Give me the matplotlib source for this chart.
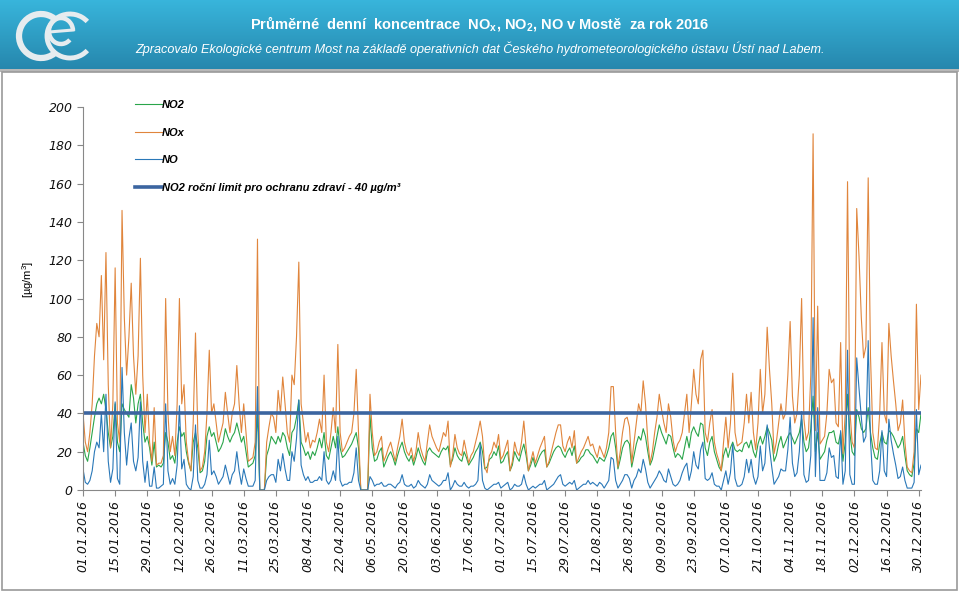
import numpy as np
import pandas as pd
import matplotlib
matplotlib.use('Agg')
import matplotlib.pyplot as plt
import matplotlib.dates as mdates
from matplotlib.patches import Rectangle, Arc

# daily means 2016 (ug/m3), two weeks per row
nox = [40, 25, 20, 30, 45, 70, 87, 80, 112, 68, 124, 55, 22, 45,
       116, 35, 25, 146, 90, 60, 80, 108, 70, 50, 70, 121, 60, 30,
       50, 25, 15, 43, 13, 14, 14, 18, 100, 40, 20, 28, 18, 45,
       100, 45, 55, 25, 15, 10, 35, 82, 30, 10, 12, 20, 40, 73,
       40, 45, 35, 25, 30, 35, 51, 40, 30, 40, 45, 65, 45, 30,
       45, 30, 15, 16, 17, 25, 131, 0, 0, 0, 25, 33, 40, 38,
       30, 52, 40, 59, 45, 30, 25, 60, 55, 80, 119, 45, 35, 25,
       30, 22, 26, 25, 30, 37, 30, 60, 25, 20, 30, 43, 30, 76,
       30, 20, 22, 25, 28, 30, 40, 63, 30, 0, 0, 0, 0, 50,
       30, 18, 20, 25, 28, 15, 18, 22, 25, 20, 15, 22, 28, 37,
       25, 20, 18, 22, 15, 20, 30, 22, 18, 15, 25, 34, 28, 25,
       22, 20, 25, 30, 28, 36, 12, 18, 29, 22, 19, 18, 26, 20,
       14, 18, 20, 25, 30, 36, 28, 12, 9, 18, 20, 25, 22, 29,
       16, 18, 22, 26, 10, 15, 25, 20, 18, 25, 36, 22, 10, 15,
       20, 14, 18, 22, 25, 28, 12, 15, 20, 25, 30, 34, 34, 23,
       20, 25, 28, 22, 31, 14, 17, 20, 22, 25, 28, 23, 24, 20,
       17, 23, 20, 17, 22, 30, 54, 54, 30, 12, 20, 30, 37, 38,
       33, 14, 25, 35, 45, 40, 57, 45, 26, 14, 20, 30, 38, 50,
       42, 35, 30, 45, 38, 26, 20, 24, 26, 30, 40, 50, 30, 45,
       63, 50, 45, 68, 73, 30, 25, 35, 42, 25, 19, 15, 10, 25,
       38, 22, 35, 61, 30, 23, 24, 25, 35, 50, 35, 51, 30, 21,
       35, 63, 40, 50, 85, 63, 45, 19, 25, 35, 45, 37, 40, 60,
       88, 49, 35, 40, 60, 100, 37, 26, 30, 60, 186, 31, 96, 24,
       26, 28, 40, 63, 56, 58, 35, 33, 77, 19, 40, 161, 42, 25,
       22, 147, 122, 90, 69, 75, 163, 70, 30, 22, 21, 40, 77, 40,
       35, 87, 70, 57, 45, 31, 35, 47, 25, 12, 10, 9, 20, 97,
       42, 60]

no2 = [25, 18, 15, 22, 30, 38, 45, 48, 45, 50, 42, 30, 22, 28,
       45, 25, 20, 45, 42, 40, 38, 55, 48, 35, 45, 50, 35, 25,
       28, 22, 13, 25, 12, 13, 12, 14, 30, 25, 16, 18, 14, 25,
       33, 28, 30, 20, 14, 10, 25, 30, 22, 9, 10, 15, 28, 33,
       28, 30, 25, 20, 22, 25, 32, 28, 25, 28, 30, 35, 30, 25,
       28, 20, 12, 13, 14, 18, 40, 0, 0, 0, 18, 22, 28, 26,
       24, 28, 25, 30, 28, 22, 18, 30, 32, 38, 47, 25, 22, 18,
       20, 16, 20, 18, 22, 27, 22, 30, 18, 16, 22, 28, 22, 33,
       22, 17, 18, 20, 22, 24, 27, 30, 22, 0, 0, 0, 0, 39,
       22, 15, 16, 20, 22, 12, 15, 18, 20, 17, 13, 18, 22, 25,
       20, 17, 15, 18, 13, 17, 22, 18, 15, 13, 20, 22, 20, 19,
       18, 17, 20, 22, 21, 23, 13, 16, 22, 18, 16, 15, 20, 17,
       13, 15, 17, 20, 22, 25, 20, 11, 12, 16, 17, 20, 18, 23,
       14, 15, 18, 20, 10, 13, 20, 17, 15, 20, 24, 18, 10, 13,
       17, 12, 15, 18, 20, 21, 12, 14, 17, 20, 22, 23, 22, 19,
       17, 20, 22, 18, 23, 14, 15, 17, 18, 21, 21, 19, 18, 16,
       14, 17, 16, 15, 18, 22, 28, 30, 22, 11, 16, 22, 25, 26,
       24, 12, 18, 24, 28, 26, 32, 28, 20, 13, 16, 22, 28, 34,
       30, 27, 24, 29, 28, 22, 17, 19, 18, 16, 22, 28, 22, 30,
       33, 30, 28, 35, 34, 22, 18, 25, 28, 20, 16, 12, 10, 18,
       22, 17, 22, 25, 21, 20, 21, 20, 24, 25, 22, 26, 20, 17,
       24, 28, 24, 28, 33, 30, 26, 15, 18, 24, 28, 22, 25, 28,
       30, 27, 24, 27, 30, 37, 25, 20, 22, 32, 49, 20, 30, 16,
       18, 20, 26, 30, 30, 31, 25, 24, 30, 15, 25, 50, 30, 20,
       18, 42, 38, 32, 30, 32, 43, 30, 22, 17, 16, 24, 30, 25,
       24, 31, 30, 28, 25, 22, 24, 28, 18, 10, 8, 7, 14, 32,
       30, 40]

no = [11, 4, 3, 5, 10, 20, 25, 22, 40, 20, 50, 15, 4, 11,
      46, 6, 3, 64, 30, 13, 27, 35, 15, 10, 17, 46, 15, 4,
      15, 2, 2, 12, 1, 1, 2, 3, 45, 10, 3, 6, 3, 13,
      44, 11, 16, 3, 1, 0, 7, 34, 5, 1, 1, 3, 8, 26,
      8, 10, 7, 3, 5, 7, 13, 8, 3, 8, 10, 20, 10, 3,
      11, 6, 2, 2, 2, 5, 54, 0, 0, 0, 5, 7, 8, 8,
      4, 16, 10, 19, 11, 5, 5, 20, 15, 27, 47, 13, 8, 5,
      7, 4, 4, 5, 5, 7, 5, 20, 5, 3, 5, 10, 5, 28,
      5, 2, 3, 3, 4, 4, 9, 22, 5, 0, 0, 0, 0, 7,
      5, 2, 3, 3, 4, 2, 2, 3, 3, 2, 1, 3, 4, 8,
      3, 2, 2, 3, 1, 2, 5, 3, 2, 1, 3, 8, 5, 4,
      3, 2, 3, 5, 5, 9, 0, 2, 5, 3, 2, 2, 4, 2,
      1, 2, 2, 3, 5, 24, 5, 1, 0, 1, 2, 3, 3, 4,
      1, 2, 3, 4, 0, 1, 3, 2, 2, 3, 8, 3, 0, 1,
      2, 1, 2, 3, 3, 5, 0, 1, 2, 3, 5, 7, 8, 3,
      2, 3, 4, 3, 5, 0, 1, 2, 3, 3, 5, 3, 4, 3,
      2, 4, 3, 1, 3, 5, 17, 16, 5, 1, 3, 5, 8, 8,
      6, 1, 5, 7, 11, 9, 16, 11, 4, 1, 3, 5, 7, 10,
      8, 5, 4, 11, 7, 3, 2, 3, 5, 9, 12, 14, 5, 10,
      20, 13, 11, 21, 25, 6, 5, 6, 9, 3, 2, 2, 0, 5,
      10, 3, 9, 24, 6, 2, 2, 3, 7, 16, 9, 16, 7, 3,
      7, 23, 10, 14, 34, 22, 12, 3, 5, 7, 11, 10, 10, 21,
      38, 14, 7, 9, 20, 41, 8, 4, 5, 18, 90, 7, 43, 5,
      5, 5, 9, 22, 17, 18, 7, 6, 31, 3, 10, 73, 8, 3,
      3, 69, 53, 38, 25, 28, 78, 26, 5, 3, 3, 10, 31, 10,
      7, 37, 26, 19, 13, 6, 7, 12, 5, 1, 1, 1, 4, 42,
      8, 13]

limit_no2 = 40  # rocni limit NO2
y_ticks = list(range(0, 201, 20))

dates = pd.date_range('2016-01-01', periods=len(nox), freq='D')
limit = np.full(len(dates), limit_no2)

W, H = 959, 592
def px(x, y):
    return x / W, 1 - y / H

fig = plt.figure(figsize=(W / 100, H / 100), dpi=100)
fig.patch.set_facecolor('white')

# header band with gradient
hb = fig.add_axes([0, 1 - 69 / H, 1, 69 / H])
grad = np.linspace(0, 1, 100).reshape(-1, 1)
top_c = np.array([0.22, 0.71, 0.86])
bot_c = np.array([0.15, 0.53, 0.68])
img = top_c + (bot_c - top_c) * grad[:, :, None]
hb.imshow(img, aspect='auto', extent=[0, 1, 0, 1])
hb.set_axis_off()
# shadow under the band
fig.patches.append(Rectangle(px(0, 72), 1, 3 / H, transform=fig.transFigure,
                             facecolor='#b8b8b8', edgecolor='none'))
# frame around chart area
fig.patches.append(Rectangle(px(2, 590), (955) / W, (590 - 72) / H,
                             transform=fig.transFigure, facecolor='none',
                             edgecolor='#9a9a9a', linewidth=1.2))

# logo (two C's and an e)
lg = fig.add_axes([0, 1 - 69 / H, 110 / W, 69 / H])
lg.set_xlim(0, 110)
lg.set_ylim(69, 0)
lg.set_axis_off()
logo_c = '#e6ecef'
lg.add_patch(Arc((41, 36), 44, 44, theta1=45, theta2=315, color=logo_c, lw=4.5))
lg.add_patch(Arc((70, 36), 46, 44, theta1=40, theta2=320, color=logo_c, lw=3.5))
lg.add_patch(Arc((61, 31), 24, 26, theta1=45, theta2=360, color=logo_c, lw=3.2))
lg.plot([49, 73], [32, 30], color=logo_c, lw=2.2)

fig.text(*px(480, 24), 'Průměrné  denní  koncentrace  NO$_\\mathregular{x}$, NO$_\\mathregular{2}$, NO v Mostě  za rok 2016',
         ha='center', va='center', color='white', fontsize=10.5,
         fontweight='bold', family='Liberation Sans')
fig.text(*px(480, 49), 'Zpracovalo Ekologické centrum Most na základě operativních dat Českého hydrometeorologického ústavu Ústí nad Labem.',
         ha='center', va='center', color='white', fontsize=9.1,
         style='italic', family='Liberation Sans')

ax = fig.add_axes([83 / W, (592 - 490) / H, (921 - 83) / W, (490 - 107) / H])
ax.plot(dates, no2, color='#2aa54a', lw=0.8, label='NO2')
ax.plot(dates, nox, color='#e0853c', lw=0.8, label='NOx')
ax.plot(dates, no, color='#2a78b8', lw=0.8, label='NO')
ax.plot(dates, limit, color='#3b65a0', lw=2.6,
        label='NO2 roční limit pro ochranu zdraví - 40 µg/m³')

ax.set_ylim(0, 200)
ax.set_xlim(dates[0], dates[-1])
ax.set_yticks(y_ticks)
ax.set_xticks(dates[::14])
ax.xaxis.set_major_formatter(mdates.DateFormatter('%d.%m.%Y'))
for lab in ax.get_xticklabels():
    lab.set_rotation(90)
    lab.set_fontstyle('italic')
    lab.set_fontsize(9)
for lab in ax.get_yticklabels():
    lab.set_fontstyle('italic')
    lab.set_fontsize(9)
ax.tick_params(colors='#888888', labelcolor='#111111', length=4, width=0.8)
ax.spines['top'].set_visible(False)
ax.spines['right'].set_visible(False)
ax.spines['left'].set_color('#888888')
ax.spines['bottom'].set_color('#888888')
ax.set_ylabel('[µg/m$^\\mathregular{3}$]', fontsize=8, family='Liberation Sans')
ax.yaxis.set_label_coords(-0.056, 0.55)

leg = ax.legend(loc='upper left', bbox_to_anchor=(0.05, 1.045), frameon=False,
                handlelength=2.4, handletextpad=0.0, labelspacing=1.6,
                prop={'family': 'Liberation Sans', 'weight': 'bold',
                      'style': 'italic', 'size': 8})

fig.savefig('out.png', dpi=100)
